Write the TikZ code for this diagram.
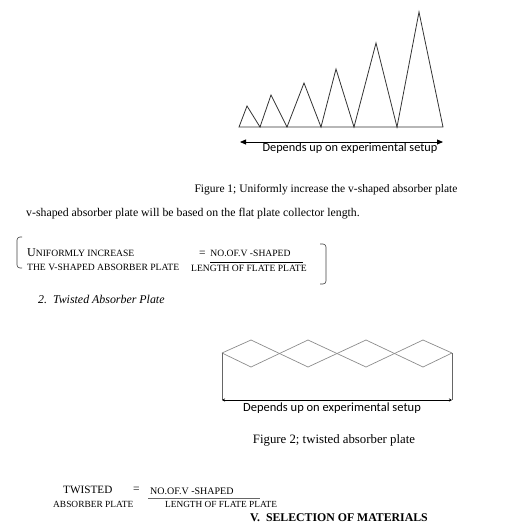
\documentclass[tikz,border=0pt]{standalone}
\usepackage{fontspec}
\setmainfont{Liberation Serif}
\newfontfamily\calibri{Carlito}
\usetikzlibrary{arrows.meta}
\newcommand\fs[1]{\fontsize{#1}{#1}\selectfont}
\tikzset{
  txt/.style={inner sep=0pt, font=\fs{11.6}},
  sc/.style={inner sep=0pt, font=\fs{9.6}},
  cal/.style={inner sep=0pt, font=\calibri\fs{12.3}},
  plate/.style={draw=black!80, line width=0.8pt, line join=miter},
  twist/.style={draw=black!45, line width=0.7pt},
  brk/.style={draw=black!75, line width=0.6pt, rounded corners=3pt},
}
\begin{document}
\begin{tikzpicture}[x=1pt,y=-1pt]
\useasboundingbox (0,0) rectangle (509,531);
% Figure 1
\draw[plate] (239,127) -- (247,106) -- (260,127) -- (271,95) -- (287,127) -- (304,83) -- (321,127) -- (336,69) -- (354,127) -- (376,43) -- (397,127) -- (419,12) -- (443,127) -- cycle;
\coordinate (a1) at (240,142);
\coordinate (a2) at (443,142);
\draw[line width=0.8pt, {Triangle[length=6pt,width=5pt]}-{Triangle[length=6pt,width=5pt]}] (a1) -- (a2);
\node[cal] (dep1) at (350,148) {Depends up on experimental setup};
\node[txt, font=\fs{11.5}] (cap1) at (326,190) {Figure 1; Uniformly increase the v-shaped absorber plate};
\node[txt, anchor=west, font=\fs{11.8}] (line) at (26,214) {v-shaped absorber plate will be based on the flat plate collector length.};
% bracket equation
\draw[brk] (22,237) -- (17,237) -- (17,268) -- (22,268);
\draw[brk] (320,244) -- (326,244) -- (326,284) -- (320,284);
\node[sc, anchor=west] (uni) at (27,253) {{\fs{12}U}NIFORMLY INCREASE};
\node[sc, anchor=west] (the) at (27,267) {THE V-SHAPED ABSORBER PLATE};
\node[sc, anchor=west] (eq1) at (199,253) {{\fs{11.5}=}\ \ NO.OF.V -SHAPED};
\draw[line width=0.5pt] (210,262) -- (303,262);
\node[sc, anchor=west] (len1) at (191,268) {LENGTH OF FLATE PLATE};
\node[txt, anchor=west, font=\itshape\fs{11.9}] (tw) at (38,299) {2.\ \ Twisted Absorber Plate};
% Figure 2
\coordinate (L) at (222,353);
\coordinate (R) at (452,353);
\draw[twist] (L) -- (251,340) -- (308,367) -- (366,340) -- (423,367) -- (R);
\draw[twist] (L) -- (251,367) -- (308,340) -- (366,367) -- (423,340) -- (R);
\coordinate (Lb) at (222,400);
\coordinate (Rb) at (452,400);
\draw[twist, draw=black!60] (L) -- (Lb);
\draw[twist, draw=black!60] (R) -- (Rb);
\draw[line width=0.6pt, {Stealth[length=3pt,width=3pt]}-{Stealth[length=3pt,width=3pt]}] (Lb) -- (Rb);
\node[cal, font=\calibri\fs{12.5}] (dep2) at (332,408) {Depends up on experimental setup};
\node[txt, font=\fs{12.8}] (cap2) at (334,440) {Figure 2; twisted absorber plate};
% bottom equation
\node[txt, anchor=west, font=\fs{11.2}] (twi) at (63,490) {TWISTED};
\node[txt, anchor=west] (eq2) at (133,490) {=};
\node[sc, anchor=west, font=\fs{10}] (no2) at (150,491) {NO.OF.V -SHAPED};
\draw[line width=1pt, draw=black!60] (148,498) -- (260,498);
\node[sc, anchor=west, font=\fs{9.4}] (abs) at (53,504) {ABSORBER PLATE};
\node[sc, anchor=west, font=\fs{9.3}] (len2) at (165,504) {LENGTH OF FLATE PLATE};
\node[txt, anchor=west, font=\bfseries\fs{11.8}] (sel) at (250,518) {V.\ \ SELECTION OF MATERIALS};
\end{tikzpicture}
\end{document}
